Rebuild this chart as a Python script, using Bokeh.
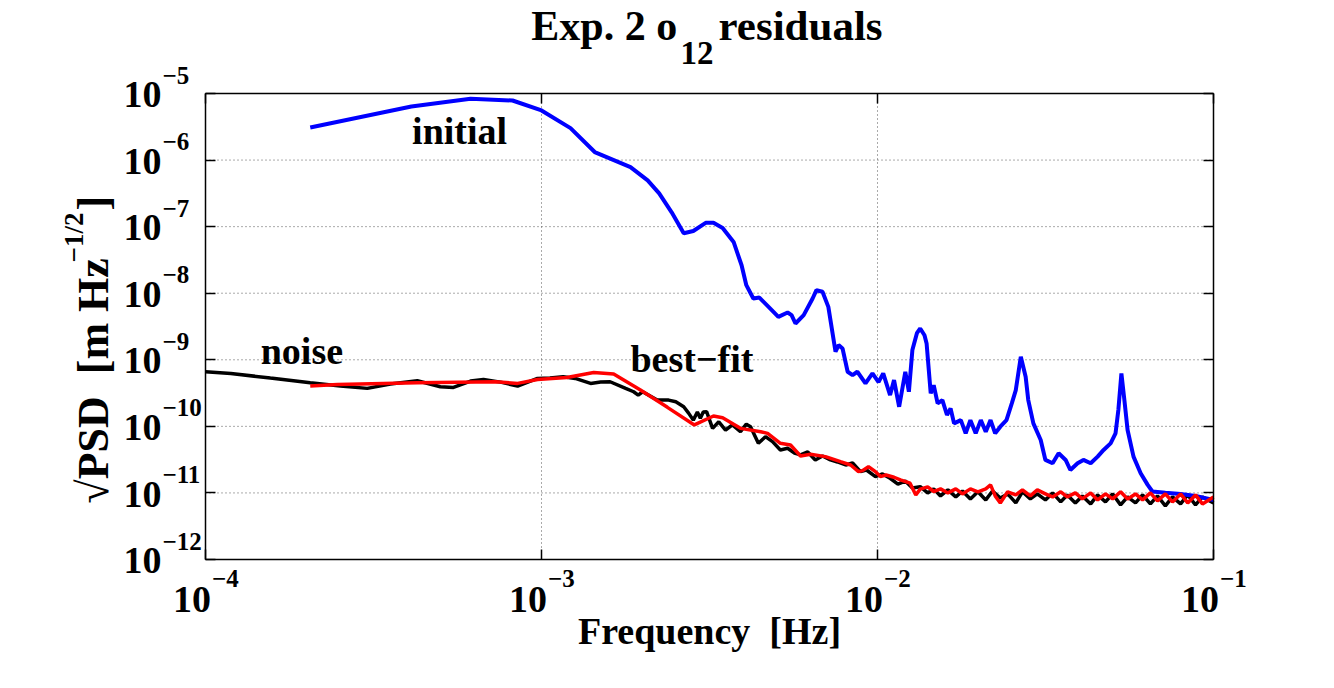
import math
from bokeh.plotting import figure
from bokeh.models import Label, FixedTicker, LogAxis, CustomJSTickFormatter, Range1d
from bokeh.embed import file_html
from bokeh.resources import INLINE

# ---------------- data ----------------
initial_freq = [2.05e-4, 4.10e-4, 6.15e-4, 8.2e-4, 1.0e-3, 1.22e-3, 1.44e-3, 1.84e-3, 2.07e-3, 2.24e-3,
                2.44e-3, 2.65e-3, 2.83e-3, 3.08e-3, 3.25e-3, 3.46e-3, 3.73e-3, 3.94e-3, 4.07e-3, 4.27e-3,
                4.45e-3, 4.74e-3, 5.07e-3, 5.40e-3, 5.55e-3, 5.70e-3, 6.03e-3, 6.41e-3, 6.58e-3, 6.86e-3,
                7.14e-3, 7.50e-3, 7.66e-3, 7.87e-3, 8.15e-3, 8.43e-3, 8.71e-3, 9.21e-3, 9.66e-3, 1.007e-2,
                1.04e-2, 1.09e-2, 1.12e-2, 1.16e-2, 1.21e-2, 1.24e-2, 1.27e-2, 1.31e-2, 1.34e-2, 1.38e-2,
                1.40e-2, 1.44e-2, 1.47e-2, 1.51e-2, 1.56e-2, 1.61e-2, 1.65e-2, 1.69e-2, 1.77e-2, 1.83e-2,
                1.89e-2, 1.96e-2, 2.03e-2, 2.10e-2, 2.17e-2, 2.24e-2, 2.32e-2, 2.42e-2, 2.51e-2, 2.58e-2,
                2.67e-2, 2.76e-2, 2.81e-2, 2.91e-2, 3.06e-2, 3.16e-2, 3.32e-2, 3.46e-2, 3.63e-2, 3.75e-2,
                3.94e-2, 4.10e-2, 4.31e-2, 4.52e-2, 4.71e-2, 4.94e-2, 5.11e-2, 5.21e-2, 5.32e-2, 5.43e-2,
                5.55e-2, 5.78e-2, 6.07e-2, 6.37e-2, 6.58e-2, 7.19e-2, 7.98e-2, 8.84e-2, 1.0e-1]
initial_psd = [3.09e-6, 6.38e-6, 8.32e-6, 7.85e-6, 5.56e-6, 3.02e-6, 1.32e-6, 7.85e-7, 4.95e-7, 3.16e-7,
               1.64e-7, 7.94e-8, 8.61e-8, 1.14e-7, 1.14e-7, 9.55e-8, 5.89e-8, 2.63e-8, 1.32e-8, 8.32e-9,
               8.61e-9, 6.24e-9, 4.42e-9, 5.13e-9, 4.68e-9, 3.51e-9, 4.68e-9, 8.32e-9, 1.11e-8, 1.05e-8,
               6.24e-9, 1.32e-9, 1.66e-9, 1.48e-9, 6.61e-10, 5.89e-10, 6.61e-10, 4.42e-10, 6.24e-10, 4.62e-10,
               6.24e-10, 2.95e-10, 4.95e-10, 1.97e-10, 6.61e-10, 3.31e-10, 1.40e-9, 2.51e-9, 2.95e-9, 2.34e-9,
               1.76e-9, 3.13e-10, 4.17e-10, 2.21e-10, 2.48e-10, 1.48e-10, 1.86e-10, 1.11e-10, 1.24e-10, 7.85e-11,
               1.24e-10, 7.85e-11, 1.24e-10, 8.32e-11, 1.24e-10, 7.85e-11, 9.89e-11, 1.24e-10, 2.21e-10, 3.51e-10,
               1.11e-9, 5.56e-10, 2.48e-10, 1.11e-10, 6.24e-11, 3.13e-11, 2.79e-11, 3.94e-11, 3.13e-11, 2.21e-11,
               2.79e-11, 3.13e-11, 2.79e-11, 3.51e-11, 4.42e-11, 5.56e-11, 7.85e-11, 1.76e-10, 6.24e-10, 2.48e-10,
               8.81e-11, 3.51e-11, 1.97e-11, 1.32e-11, 1.05e-11, 1.01e-11, 9.66e-12, 9.0e-12, 7.85e-12]

noise_freq = [1.0e-4, 1.19e-4, 1.56e-4, 2.05e-4, 2.52e-4, 3.03e-4, 3.55e-4, 4.27e-4, 5.0e-4, 5.47e-4,
              6.15e-4, 6.72e-4, 7.55e-4, 8.49e-4, 9.73e-4, 1.06e-3, 1.16e-3, 1.26e-3, 1.40e-3, 1.50e-3,
              1.60e-3, 1.78e-3, 1.88e-3, 1.94e-3, 2.00e-3, 2.21e-3, 2.39e-3, 2.51e-3, 2.65e-3, 2.74e-3,
              2.83e-3, 2.91e-3, 2.97e-3, 3.03e-3, 3.10e-3, 3.23e-3, 3.37e-3, 3.53e-3, 3.70e-3, 3.91e-3,
              4.07e-3, 4.19e-3, 4.42e-3, 4.64e-3, 4.87e-3, 5.14e-3, 5.40e-3, 5.66e-3, 5.90e-3, 6.20e-3,
              6.53e-3, 6.86e-3, 7.24e-3, 7.60e-3, 8.04e-3, 8.43e-3, 8.90e-3, 9.27e-3, 9.86e-3, 1.035e-2,
              1.09e-2, 1.15e-2, 1.21e-2, 1.27e-2, 1.34e-2, 1.41e-2, 1.47e-2, 1.54e-2, 1.62e-2, 1.71e-2,
              1.79e-2, 1.89e-2, 1.99e-2, 2.10e-2, 2.20e-2, 2.32e-2, 2.44e-2, 2.58e-2, 2.70e-2, 2.85e-2,
              2.99e-2, 3.16e-2, 3.32e-2, 3.51e-2, 3.67e-2, 3.88e-2, 4.07e-2, 4.31e-2, 4.52e-2, 4.77e-2,
              5.01e-2, 5.29e-2, 5.55e-2, 5.86e-2, 6.15e-2, 6.49e-2, 6.81e-2, 7.19e-2, 7.55e-2, 7.98e-2,
              8.38e-2, 8.84e-2, 9.27e-2, 1.0e-1]
noise_psd = [6.61e-10, 6.24e-10, 5.31e-10, 4.52e-10, 4.03e-10, 3.72e-10, 4.32e-10, 4.84e-10, 3.94e-10, 3.85e-10,
             4.79e-10, 5.07e-10, 4.62e-10, 4.03e-10, 5.25e-10, 5.31e-10, 5.56e-10, 5.25e-10, 4.42e-10, 4.62e-10,
             4.68e-10, 3.72e-10, 3.31e-10, 2.95e-10, 3.31e-10, 2.48e-10, 2.48e-10, 2.34e-10, 1.97e-10, 1.58e-10,
             1.24e-10, 1.64e-10, 1.32e-10, 1.64e-10, 1.66e-10, 9.33e-11, 1.17e-10, 8.81e-11, 1.05e-10, 8.32e-11,
             1.08e-10, 9.89e-11, 5.56e-11, 7.0e-11, 5.89e-11, 4.42e-11, 4.68e-11, 3.98e-11, 3.72e-11, 4.12e-11,
             3.13e-11, 3.59e-11, 3.13e-11, 2.92e-11, 2.63e-11, 2.82e-11, 2.09e-11, 2.21e-11, 1.76e-11, 1.93e-11,
             1.66e-11, 1.36e-11, 1.51e-11, 1.19e-11, 1.24e-11, 1.0e-11, 1.15e-11, 9.02e-12, 1.11e-11, 8.71e-12,
             1.07e-11, 8.13e-12, 1.04e-11, 7.85e-12, 1.07e-11, 8.41e-12, 9.66e-12, 7.08e-12, 1.04e-11, 8.13e-12,
             9.66e-12, 7.85e-12, 1.0e-11, 7.33e-12, 9.33e-12, 7.08e-12, 9.02e-12, 6.84e-12, 9.33e-12, 7.33e-12,
             9.66e-12, 6.61e-12, 8.71e-12, 7.08e-12, 9.33e-12, 6.84e-12, 9.02e-12, 6.38e-12, 8.71e-12, 6.84e-12,
             9.33e-12, 6.61e-12, 8.71e-12, 7.08e-12]

fit_freq = [2.05e-4, 2.47e-4, 4.27e-4, 7.30e-4, 8.49e-4, 9.73e-4, 1.19e-3, 1.43e-3, 1.64e-3, 1.97e-3,
            2.37e-3, 2.85e-3, 3.25e-3, 3.46e-3, 3.91e-3, 4.49e-3, 4.71e-3, 5.14e-3, 5.51e-3, 5.90e-3,
            6.32e-3, 7.00e-3, 7.76e-3, 8.32e-3, 8.78e-3, 9.02e-3, 9.40e-3, 9.86e-3, 1.02e-2, 1.06e-2,
            1.12e-2, 1.17e-2, 1.25e-2, 1.30e-2, 1.34e-2, 1.41e-2, 1.47e-2, 1.54e-2, 1.62e-2, 1.71e-2,
            1.79e-2, 1.89e-2, 1.99e-2, 2.10e-2, 2.17e-2, 2.24e-2, 2.32e-2, 2.44e-2, 2.58e-2, 2.70e-2,
            2.85e-2, 2.99e-2, 3.16e-2, 3.32e-2, 3.51e-2, 3.67e-2, 3.88e-2, 4.07e-2, 4.31e-2, 4.52e-2,
            4.77e-2, 5.01e-2, 5.29e-2, 5.55e-2, 5.86e-2, 6.15e-2, 6.49e-2, 6.81e-2, 7.19e-2, 7.55e-2,
            7.98e-2, 8.38e-2, 8.84e-2, 9.27e-2, 1.0e-1]
fit_psd = [4.03e-10, 4.27e-10, 4.52e-10, 4.68e-10, 4.42e-10, 5.07e-10, 5.43e-10, 6.46e-10, 6.10e-10, 3.51e-10,
           1.93e-10, 1.05e-10, 1.43e-10, 1.35e-10, 9.33e-11, 8.32e-11, 7.85e-11, 5.56e-11, 5.25e-11, 3.59e-11,
           3.80e-11, 3.51e-11, 2.95e-11, 2.63e-11, 2.09e-11, 2.16e-11, 2.48e-11, 2.09e-11, 1.76e-11, 1.86e-11,
           1.72e-11, 1.57e-11, 1.40e-11, 9.33e-12, 1.14e-11, 1.23e-11, 1.05e-11, 1.15e-11, 1.0e-11, 1.15e-11,
           9.66e-12, 1.15e-11, 1.04e-11, 1.15e-11, 1.32e-11, 9.02e-12, 7.08e-12, 1.04e-11, 9.33e-12, 1.11e-11,
           9.02e-12, 1.11e-11, 9.66e-12, 8.71e-12, 1.04e-11, 8.71e-12, 1.0e-11, 8.13e-12, 1.0e-11, 7.85e-12,
           9.66e-12, 8.13e-12, 1.04e-11, 8.13e-12, 9.66e-12, 7.85e-12, 1.0e-11, 7.59e-12, 9.66e-12, 7.33e-12,
           9.66e-12, 7.08e-12, 9.33e-12, 6.84e-12, 8.71e-12]

x_ticks = [1e-4, 1e-3, 1e-2, 1e-1]
x_tick_exp = ["\u22124", "\u22123", "\u22122", "\u22121"]
y_ticks = [1e-12, 1e-11, 1e-10, 1e-9, 1e-8, 1e-7, 1e-6, 1e-5]
y_tick_exp = ["\u221212", "\u221211", "\u221210", "\u22129", "\u22128", "\u22127", "\u22126", "\u22125"]

title_parts = ["Exp. 2 o", "12", "residuals"]
x_label = "Frequency \u00a0[Hz]"
y_label_parts = ["\u221aPSD \u00a0[m Hz", "\u22121/2", "]"]
curve_names = ["initial", "noise", "best\u2212fit"]

# ---------------- layout (pixels) ----------------
W, H = 1334, 688
BOX_L, BOX_R, BOX_T, BOX_B = 205, 1213, 93, 559
FONT = "Liberation Serif"
SHIFT = 0.3375   # baseline correction (fraction of the font size)

xlo, xhi = math.log10(x_ticks[0]), math.log10(x_ticks[-1])
ylo, yhi = math.log10(y_ticks[0]), math.log10(y_ticks[-1])
px_dec_x = (BOX_R - BOX_L) / (xhi - xlo)
px_dec_y = (BOX_B - BOX_T) / (yhi - ylo)
# the frame covers the whole canvas; the ranges are widened so that the
# axes box sits at BOX_* while every text outside it stays visible
x_range = Range1d(10 ** (xlo - BOX_L / px_dec_x), 10 ** (xhi + (W - BOX_R) / px_dec_x))
y_range = Range1d(10 ** (ylo - (H - BOX_B) / px_dec_y), 10 ** (yhi + BOX_T / px_dec_y))

p = figure(width=W, height=H, x_axis_type="log", y_axis_type="log",
           x_range=x_range, y_range=y_range,
           x_axis_location=None, y_axis_location=None,
           output_backend="svg", toolbar_location=None, min_border=0)
p.min_border_left = p.min_border_right = p.min_border_top = p.min_border_bottom = 0
p.background_fill_color = "white"
p.border_fill_color = "white"
p.outline_line_color = None
p.xgrid.visible = False
p.ygrid.visible = False

empty = CustomJSTickFormatter(code="return ''")

def make_axis(ticks, loc, bounds):
    ax = LogAxis(ticker=FixedTicker(ticks=ticks), formatter=empty, fixed_location=loc, bounds=bounds)
    ax.major_tick_in = 10
    ax.major_tick_out = 0
    ax.major_label_standoff = 0
    ax.minor_tick_line_color = None
    ax.major_tick_line_color = "black"
    ax.major_tick_line_width = 1.5
    ax.axis_line_color = "black"
    ax.axis_line_width = 1.5
    return ax

xb = (x_ticks[0], x_ticks[-1])
yb = (y_ticks[0], y_ticks[-1])

# dotted grid at the decades
p.segment(x0=x_ticks, y0=[y_ticks[0]] * len(x_ticks), x1=x_ticks, y1=[y_ticks[-1]] * len(x_ticks),
          line_color="#555555", line_dash="1 3", line_width=1)
p.segment(x0=[x_ticks[0]] * len(y_ticks), y0=y_ticks, x1=[x_ticks[-1]] * len(y_ticks), y1=y_ticks,
          line_color="#555555", line_dash="1 3", line_width=1)

# ---------------- curves ----------------
p.line(noise_freq, noise_psd, line_color="black", line_width=3.5)
p.line(initial_freq, initial_psd, line_color="#0000ff", line_width=4)
p.line(fit_freq, fit_psd, line_color="#ff0000", line_width=3.5)

# axes box with inward ticks on all four sides
p.add_layout(make_axis(x_ticks, y_ticks[0], xb), "below")
p.add_layout(make_axis(x_ticks, y_ticks[-1], xb), "above")
p.add_layout(make_axis(y_ticks, x_ticks[0], yb), "left")
p.add_layout(make_axis(y_ticks, x_ticks[-1], yb), "right")

def lab(size, **kw):
    base = dict(text_font=FONT, text_font_style="bold", text_color="black",
                text_baseline="alphabetic", text_font_size=f"{size}px")
    base.update(kw)
    p.add_layout(Label(**base))

# tick labels (10 with a raised exponent); offsets give the baseline position
for t, e in zip(x_ticks, x_tick_exp):
    lab(38, x=t, y=y_ticks[0], x_offset=5.5, y_offset=-52.7 + SHIFT * 38, text="10", text_align="right")
    lab(25, x=t, y=y_ticks[0], x_offset=6.5, y_offset=-27.7 + SHIFT * 25, text=e, text_align="left")
for t, e in zip(y_ticks, y_tick_exp):
    lab(38, x=x_ticks[0], y=t, x_offset=-44, y_offset=-14 + SHIFT * 38, text="10", text_align="right")
    lab(25, x=x_ticks[0], y=t, x_offset=-43, y_offset=10 + SHIFT * 25, text=e, text_align="left")

# title (screen units: x from canvas left, y up from canvas bottom)
lab(42, x=676.7, y=H - 39.3 + SHIFT * 42, x_units="screen", y_units="screen",
    text=title_parts[0], text_align="right")
lab(33, x=680, y=H - 63.3 + SHIFT * 33, x_units="screen", y_units="screen",
    text=title_parts[1], text_align="left")
lab(43, x=718, y=H - 39.3 + SHIFT * 43, x_units="screen", y_units="screen",
    text=title_parts[2], text_align="left")

# axis labels
lab(38, x=709, y=H - 643.3 + SHIFT * 38, x_units="screen", y_units="screen",
    text=x_label, text_align="center")
lab(44, x=108 - SHIFT * 44, y=H - 503, x_units="screen", y_units="screen",
    text=y_label_parts[0], text_align="left", angle=math.pi / 2)
lab(27, x=83 - SHIFT * 27, y=H - 262, x_units="screen", y_units="screen",
    text=y_label_parts[1], text_align="left", angle=math.pi / 2)
lab(44, x=108 - SHIFT * 44, y=H - 210, x_units="screen", y_units="screen",
    text=y_label_parts[2], text_align="left", angle=math.pi / 2)

# curve names
lab(38, x=4.12e-4, y=1.76e-6, y_offset=SHIFT * 38, text=curve_names[0], text_align="left")
lab(38, x=1.46e-4, y=8.83e-10, y_offset=SHIFT * 38, text=curve_names[1], text_align="left")
lab(38, x=1.84e-3, y=6.6e-10, y_offset=SHIFT * 38, text=curve_names[2], text_align="left")

open("out.html", "w").write(file_html(p, INLINE))
